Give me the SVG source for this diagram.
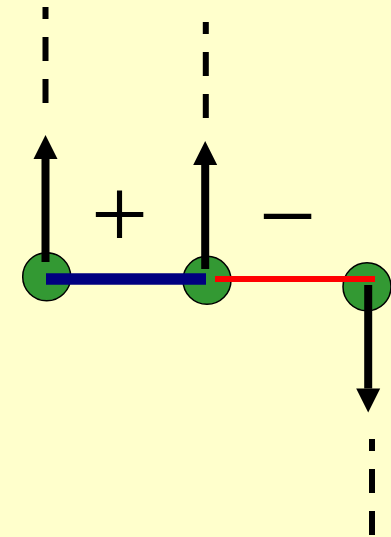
<svg xmlns="http://www.w3.org/2000/svg" width="391" height="537" viewBox="0 0 391 537">
  <defs>
    <style>
      .node { fill: #339933; stroke: #000000; stroke-width: 1.5; }
      .dash { stroke: #000000; stroke-width: 6; stroke-dasharray: 24 18; fill: none; }
      .arrow { stroke: #000000; stroke-width: 8; fill: none; marker-end: url(#head); }
      .sign { font-family: "Liberation Serif", "Times New Roman", serif; font-size: 102px; fill: #000000; text-anchor: middle; }
    </style>
    <marker id="head" markerUnits="userSpaceOnUse" markerWidth="24" markerHeight="24" refX="0" refY="12" orient="auto" overflow="visible">
      <path d="M0,0 L24,12 L0,24 Z" fill="#000000"/>
    </marker>
  </defs>
  <rect x="0" y="0" width="391" height="537" fill="#FFFFCC"/>
  <g id="nodes">
    <g id="node-left"><circle class="node" cx="46.7" cy="276.7" r="24"/></g>
    <g id="node-middle"><circle class="node" cx="207" cy="280.3" r="24"/></g>
    <g id="node-right"><circle class="node" cx="367" cy="286.7" r="24"/></g>
  </g>
  <g id="connectors">
    <line class="dash" x1="45.5" y1="103" x2="45.5" y2="7"/>
    <line class="dash" x1="205.8" y1="118" x2="205.8" y2="22"/>
    <line class="dash" x1="372" y1="535" x2="372" y2="439"/>
    <line x1="46" y1="279" x2="206" y2="279" stroke="#000080" stroke-width="11.5"/>
    <line x1="215" y1="279" x2="375" y2="279" stroke="#FF0000" stroke-width="6"/>
    <line class="arrow" x1="45.5" y1="262" x2="45.5" y2="159"/>
    <line class="arrow" x1="205.2" y1="269" x2="205.2" y2="165"/>
    <line class="arrow" x1="368.2" y1="285" x2="368.2" y2="388.5"/>
  </g>
  <g id="labels">
    <text class="sign" x="119.5" y="247.5">+</text>
    <text class="sign" x="287.5" y="249.5">−</text>
  </g>
</svg>
